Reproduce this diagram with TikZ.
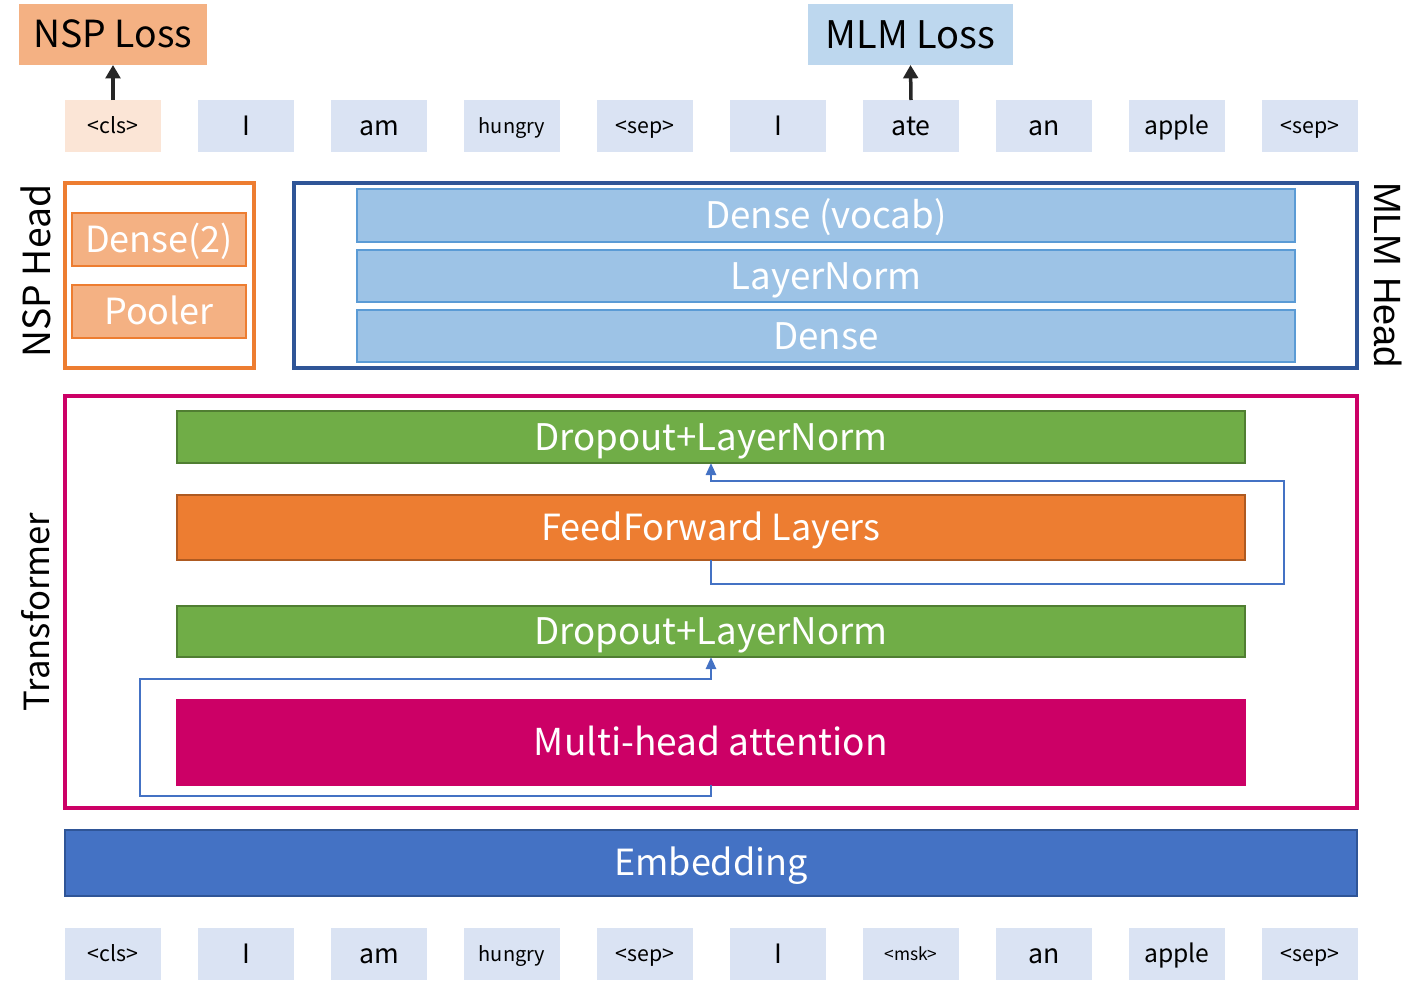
\documentclass[tikz,border=0pt]{standalone}
\usepackage{fontspec}
\setmainfont{Noto Sans CJK KR}
\newfontfamily\arialfont{Liberation Sans}
\usetikzlibrary{arrows.meta}
\definecolor{lossor}{HTML}{F4B183}
\definecolor{lossbl}{HTML}{BDD7EE}
\definecolor{tokbl}{HTML}{DAE3F3}
\definecolor{tokor}{HTML}{FBE5D6}
\definecolor{orng}{HTML}{ED7D31}
\definecolor{orngdk}{HTML}{AE5A21}
\definecolor{navy}{HTML}{2F5597}
\definecolor{ltblue}{HTML}{9DC3E6}
\definecolor{midblue}{HTML}{5B9BD5}
\definecolor{magent}{HTML}{CC0066}
\definecolor{grn}{HTML}{70AD47}
\definecolor{grndk}{HTML}{507E32}
\definecolor{blu}{HTML}{4472C4}
\definecolor{arrdk}{HTML}{262626}
\def\px{0.75pt}
\tikzset{
  fsz/.style={font=\fontsize{#1}{#1}\selectfont, text height=0.72*#1, text depth=0pt},
  afsz/.style={font=\arialfont\fontsize{#1}{#1}\selectfont, text height=0.72*#1, text depth=0pt},
  blk/.style={inner sep=0pt, outer sep=0pt},
  tok/.style={blk, fill=tokbl, minimum width=96*\px, minimum height=52*\px},
  layer/.style={blk, draw, line width=2*\px, text=white},
  skip/.style={draw=blu, line width=2.5*\px, -{Triangle[length=9pt,width=7.5pt]}},
  up/.style={draw=arrdk, line width=3.5*\px, -{Triangle[length=10pt,width=11pt]}},
}
\begin{document}
\begin{tikzpicture}[x=0.75pt, y=-0.75pt]
\useasboundingbox (0,0) rectangle (1422,990);
% losses
\node[blk, fill=lossor, minimum width=188*\px, minimum height=61*\px, fsz=28pt] (nsploss) at (113,34.5) {NSP Loss};
\node[blk, fill=lossbl, minimum width=205*\px, minimum height=61*\px, fsz=28.5pt] (mlmloss) at (910.5,34.5) {MLM Loss};
% tokens
\foreach \i/\w/\s in {1/{<cls>}/16,2/I/20,3/am/20,4/hungry/15,5/{<sep>}/16,6/I/20,7/ate/20,8/an/20,9/apple/18.5,10/{<sep>}/16}{
  \node[tok, fsz=\s pt] (t\i) at ({113+133*(\i-1)},126) {\w};
}
\foreach \i/\w/\s in {1/{<cls>}/16,2/I/20,3/am/20,4/hungry/15,5/{<sep>}/16,6/I/20,7/{<msk>}/13,8/an/20,9/apple/18.5,10/{<sep>}/16}{
  \node[tok, fsz=\s pt] (b\i) at ({113+133*(\i-1)},954) {\w};
}
\node[tok, fill=tokor, fsz=16pt] at (t1) {<cls>};
\draw[up] (t1.north) -- (nsploss.south);
\draw[up] (t7.north) -- (mlmloss.south);
% NSP head
\node[blk, draw=orng, line width=3.5*\px, minimum width=189*\px, minimum height=185*\px] (nsphead) at (159.5,275.5) {};
\node[layer, draw=orng, fill=lossor, minimum width=174*\px, minimum height=53*\px, fsz=27pt] (dense2) at (159,239.5) {Dense(2)};
\node[layer, draw=orng, fill=lossor, minimum width=174*\px, minimum height=53*\px, fsz=27pt] (pooler) at (159,311.5) {Pooler};
\node[blk, rotate=90, fsz=28pt] (nsplab) at (37,271) {NSP Head};
% MLM head
\node[blk, draw=navy, line width=4*\px, minimum width=1063*\px, minimum height=185*\px] (mlmhead) at (825.5,275.5) {};
\node[layer, draw=midblue, fill=ltblue, minimum width=938*\px, minimum height=53*\px, fsz=27.5pt] (dvocab) at (826,215.5) {Dense (vocab)};
\node[layer, draw=midblue, fill=ltblue, minimum width=938*\px, minimum height=52*\px, fsz=27.5pt] (lnorm) at (826,276) {LayerNorm};
\node[layer, draw=midblue, fill=ltblue, minimum width=938*\px, minimum height=52*\px, fsz=27.5pt] (dense) at (826,336) {Dense};
\node[blk, rotate=-90, afsz=28.5pt] (mlmlab) at (1388,275) {MLM Head};
% transformer
\node[blk, draw=magent, line width=4*\px, minimum width=1292*\px, minimum height=412*\px] (trans) at (711,602) {};
\node[blk, rotate=90, fsz=26pt] (translab) at (37,612) {Transformer};
\node[layer, draw=grndk, fill=grn, minimum width=1068*\px, minimum height=52*\px, fsz=27.5pt] (dln1) at (711,437) {Dropout+LayerNorm};
\node[layer, draw=orngdk, fill=orng, minimum width=1068*\px, minimum height=65*\px, fsz=27pt] (ff) at (711,527.5) {FeedForward Layers};
\node[layer, draw=grndk, fill=grn, minimum width=1068*\px, minimum height=51*\px, fsz=27.5pt] (dln2) at (711,631.5) {Dropout+LayerNorm};
\node[layer, draw=magent, fill=magent, minimum width=1068*\px, minimum height=85*\px, fsz=27.8pt] (mha) at (711,742.5) {Multi-head attention};
\coordinate (s1a) at (140,796);
\coordinate (s1b) at (140,679);
\coordinate (s2a) at (1284,584);
\coordinate (s2b) at (1284,481);
\draw[skip] (mha.south) |- (s1a) -- (s1b) -| (dln2.south);
\draw[skip] (ff.south) |- (s2a) -- (s2b) -| (dln1.south);
% embedding
\node[layer, draw=navy, fill=blu, minimum width=1292*\px, minimum height=66*\px, fsz=27pt] (emb) at (711,863) {Embedding};
\end{tikzpicture}
\end{document}
